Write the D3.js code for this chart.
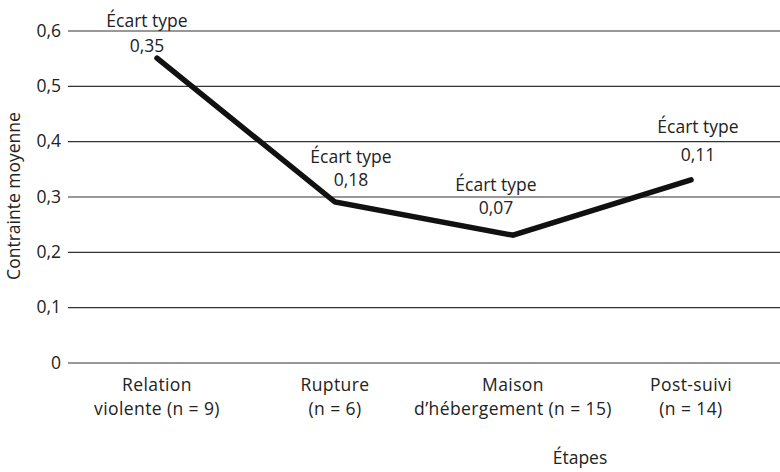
<!DOCTYPE html>
<html>
<head>
<meta charset="utf-8">
<script src="https://cdnjs.cloudflare.com/ajax/libs/d3/7.8.5/d3.min.js"></script>
<style>
  body { margin: 0; background: #fff; }
  svg text { font-family: "Open Sans", sans-serif; fill: #222; }
</style>
</head>
<body>
<svg id="chart" width="780" height="472"></svg>
<script>
const stages = ['Relation violente (n = 9)', 'Rupture (n = 6)', 'Maison d\u2019h\u00e9bergement (n = 15)', 'Post-suivi (n = 14)'];
const stageLines = [
  ['Relation', 'violente (n = 9)'],
  ['Rupture', '(n = 6)'],
  ['Maison', 'd\u2019h\u00e9bergement (n = 15)'],
  ['Post-suivi', '(n = 14)']
];
const meanValues = [0.55, 0.29, 0.23, 0.33];
const stdDevLabels = ['0,35', '0,18', '0,07', '0,11'];
const yTicks = [0, 0.1, 0.2, 0.3, 0.4, 0.5, 0.6];

const svg = d3.select('#chart');
const size = {left: 68, right: 780, top: 30.5, bottom: 362.5};
const fs = 17.5;

const x = d3.scalePoint()
  .domain(stages)
  .range([size.left, size.right])
  .padding(0.5);

const y = d3.scaleLinear()
  .domain([0, 0.6])
  .range([size.bottom, size.top]);

const fmt = (d) => d === 0 ? '0' : d3.format('.1f')(d).replace('.', ',');

// gridlines + y tick labels
const yAxis = d3.axisLeft(y)
  .tickValues(yTicks)
  .tickSize(-(size.right - size.left))
  .tickPadding(7)
  .tickFormat(fmt);

svg.append('g')
  .attr('class', 'y axis')
  .attr('transform', 'translate(' + size.left + ',0)')
  .call(yAxis)
  .call((g) => {
    g.select('.domain').remove();
    g.selectAll('line').attr('stroke', '#333').attr('stroke-width', 1.2);
    g.selectAll('text').attr('font-size', fs).attr('fill', '#222')
      .attr('font-family', '"Open Sans", sans-serif');
  });

// category labels
const xLab = svg.append('g').attr('class', 'x labels');
stageLines.forEach((lines, i) => {
  const t = xLab.append('text')
    .attr('x', x(stages[i]))
    .attr('y', 391)
    .attr('text-anchor', 'middle')
    .attr('font-size', fs)
    .attr('letter-spacing', 0.4);
  lines.forEach((s, j) => {
    t.append('tspan')
      .attr('x', x(stages[i]))
      .attr('dy', j === 0 ? 0 : 24)
      .text(s);
  });
});

// the line
const line = d3.line()
  .x((d, i) => x(stages[i]))
  .y((d) => y(d));

svg.append('path')
  .datum(meanValues)
  .attr('d', line)
  .attr('fill', 'none')
  .attr('stroke', '#111')
  .attr('stroke-width', 5.5)
  .attr('stroke-linejoin', 'miter')
  .attr('stroke-linecap', 'round');

// std-dev annotations (offset from each point)
const labelOffsets = [
  {dx: -10, dy: -6, gap: 25},
  {dx: 16, dy: -16, gap: 23},
  {dx: -17, dy: -21, gap: 23},
  {dx: 7, dy: -19, gap: 28}
];
const ann = svg.append('g').attr('class', 'annotations');
meanValues.forEach((v, i) => {
  const o = labelOffsets[i];
  const cx = x(stages[i]) + o.dx;
  const by = y(v) + o.dy;
  ann.append('text')
    .attr('x', cx).attr('y', by)
    .attr('text-anchor', 'middle')
    .attr('font-size', fs)
    .text(stdDevLabels[i]);
  ann.append('text')
    .attr('x', cx).attr('y', by - o.gap)
    .attr('text-anchor', 'middle')
    .attr('font-size', fs)
    .text('\u00c9cart type');
});

// axis titles
svg.append('text')
  .attr('x', 580).attr('y', 464)
  .attr('text-anchor', 'middle')
  .attr('font-size', fs)
  .text('\u00c9tapes');

svg.append('text')
  .attr('transform', 'translate(20,196) rotate(-90)')
  .attr('text-anchor', 'middle')
  .attr('font-size', fs)
  .text('Contrainte moyenne');
</script>
</body>
</html>
